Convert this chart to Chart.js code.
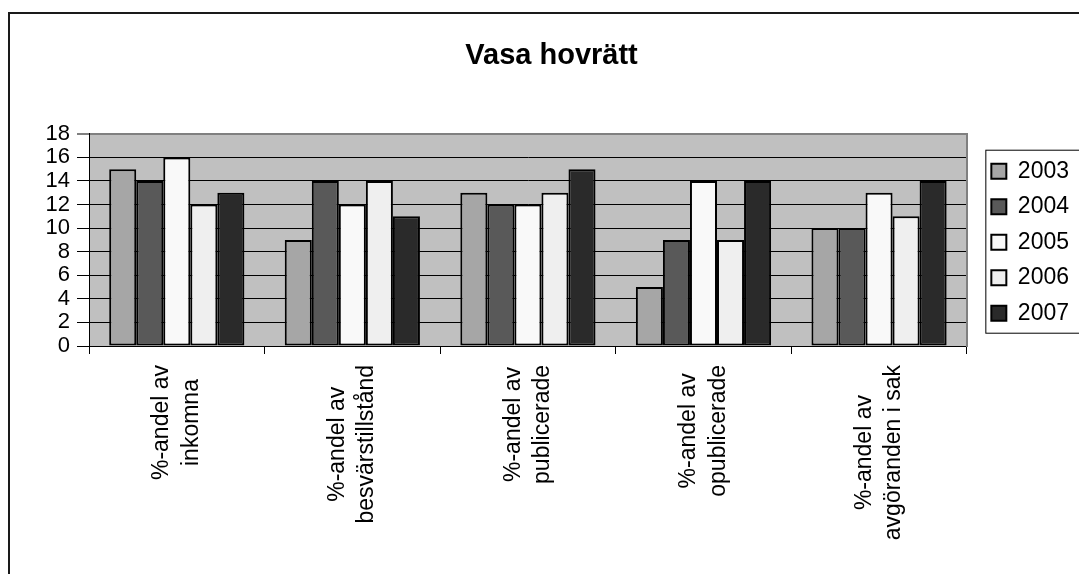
<!DOCTYPE html>
<html>
<head>
<meta charset="utf-8">
<script src="https://cdn.jsdelivr.net/npm/chart.js@4.4.0/dist/chart.umd.min.js"></script>
<style>
    html, body { margin: 0; padding: 0; background: #fff; }
    #wrap { position: relative; width: 1079px; height: 574px; overflow: hidden; }
    #frame { position: absolute; left: 8px; top: 12px; width: 1200px; height: 700px;
             border-left: 2px solid #1a1a1a; border-top: 2px solid #1a1a1a; }
    #chart { position: absolute; left: 0; top: 0; }
</style>
</head>
<body>
<div id="wrap">
    <div id="frame"></div>
    <canvas id="chart" width="1079" height="574"></canvas>
</div>
<script>
    "use strict";

    var categories = [
        ['%-andel av', 'inkomna'],
        ['%-andel av', 'besvärstillstånd'],
        ['%-andel av', 'publicerade'],
        ['%-andel av', 'opublicerade'],
        ['%-andel av', 'avgöranden i sak']
    ];
    var years = ['2003', '2004', '2005', '2006', '2007'];
    var v2003 = [15, 9, 13, 5, 10];
    var v2004 = [14, 14, 12, 9, 10];
    var v2005 = [16, 12, 12, 14, 13];
    var v2006 = [12, 14, 13, 9, 11];
    var v2007 = [13, 11, 15, 14, 14];
    var yMax = 18, yStep = 2;

    var colors = ['#a6a6a6', '#595959', '#f9f9f9', '#efefef', '#2a2a2a'];
    var series = [v2003, v2004, v2005, v2006, v2007];
    var font = "'Liberation Sans', Arial, sans-serif";
    var xFontSize = 23, xLinePitch = 29.5;

    // grey plot background, centred category labels, box round the legend
    var plotExtras = {
        id: 'plotExtras',
        beforeDraw: function (chart) {
            var a = chart.chartArea, c = chart.ctx;
            c.save();
            c.fillStyle = '#c0c0c0';
            c.fillRect(a.left, a.top, a.right - a.left, a.bottom - a.top);
            c.restore();
        },
        afterDraw: function (chart) {
            var c = chart.ctx;
            var xs = chart.scales.x;
            var top0 = xs.top + 8 + 11;
            c.save();
            c.fillStyle = '#000';
            c.font = xFontSize + "px " + font;
            c.textAlign = 'center';
            c.textBaseline = 'middle';
            xs.ticks.forEach(function (t, i) {
                var lines = categories[i];
                var maxW = 0;
                lines.forEach(function (l) { maxW = Math.max(maxW, c.measureText(l).width); });
                c.save();
                c.translate(xs.getPixelForTick(i), top0 + maxW / 2);
                c.rotate(-Math.PI / 2);
                lines.forEach(function (l, j) {
                    c.fillText(l, 0, (j - (lines.length - 1) / 2) * xLinePitch);
                });
                c.restore();
            });
            c.restore();

            var boxes = chart.legend.legendHitBoxes;
            if (!boxes || !boxes.length) return;
            var first = boxes[0], last = boxes[boxes.length - 1];
            c.save();
            c.strokeStyle = '#000';
            c.lineWidth = 1;
            c.strokeRect(first.left - 5.5, first.top - 9.5, 200, last.top + last.height - first.top + 18);
            c.restore();
        }
    };

    var ctx = document.getElementById('chart').getContext('2d');
    var chart = new Chart(ctx, {
        type: 'bar',
        data: {
            labels: categories,
            datasets: years.map(function (y, i) {
                return {
                    label: y,
                    data: series[i],
                    backgroundColor: colors[i],
                    borderColor: '#000',
                    borderWidth: 2,
                    borderSkipped: false,
                    categoryPercentage: 0.77,
                    barPercentage: 1
                };
            })
        },
        options: {
            responsive: false,
            animation: false,
            layout: { padding: { left: 24, right: 0, top: 0, bottom: 0 } },
            plugins: {
                title: {
                    display: true,
                    text: 'Vasa hovrätt',
                    color: '#000',
                    font: { family: font, size: 29, weight: 'bold' },
                    padding: { top: 39, bottom: 60 }
                },
                legend: {
                    position: 'right',
                    align: 'start',
                    title: { display: true, text: '', font: { size: 1 }, padding: { top: 146, bottom: 0 } },
                    labels: {
                        color: '#000',
                        font: { family: font, size: 23 },
                        boxWidth: 15,
                        boxHeight: 15,
                        padding: 12.5
                    }
                },
                tooltip: { enabled: false }
            },
            scales: {
                x: {
                    grid: {
                        drawOnChartArea: false,
                        color: '#000',
                        tickLength: 8,
                        offset: true
                    },
                    border: { color: '#000', width: 1 },
                    ticks: {
                        color: 'rgba(0,0,0,0)',
                        font: { family: font, size: xFontSize, lineHeight: 1.3 },
                        minRotation: 90,
                        maxRotation: 90,
                        autoSkip: false,
                        padding: 10
                    },
                    afterFit: function (s) { s.height = 228; }
                },
                y: {
                    min: 0,
                    max: yMax,
                    grid: {
                        color: function (c) { return c.tick && c.tick.value === yMax ? '#808080' : '#000'; },
                        lineWidth: function (c) { return c.tick && c.tick.value === yMax ? 2 : 1; },
                        tickLength: 12
                    },
                    border: { color: '#000', width: 1 },
                    ticks: {
                        stepSize: yStep,
                        autoSkip: false,
                        color: '#000',
                        font: { family: font, size: 22 },
                        padding: 7
                    },
                    afterFit: function (s) { s.width = 65; }
                },
                y2: {
                    position: 'right',
                    min: 0,
                    max: yMax,
                    grid: { display: false },
                    ticks: { display: false },
                    border: { display: true, color: '#808080', width: 2 },
                    afterFit: function (s) { s.width = 12; }
                }
            }
        },
        plugins: [plotExtras]
    });
</script>
</body>
</html>
